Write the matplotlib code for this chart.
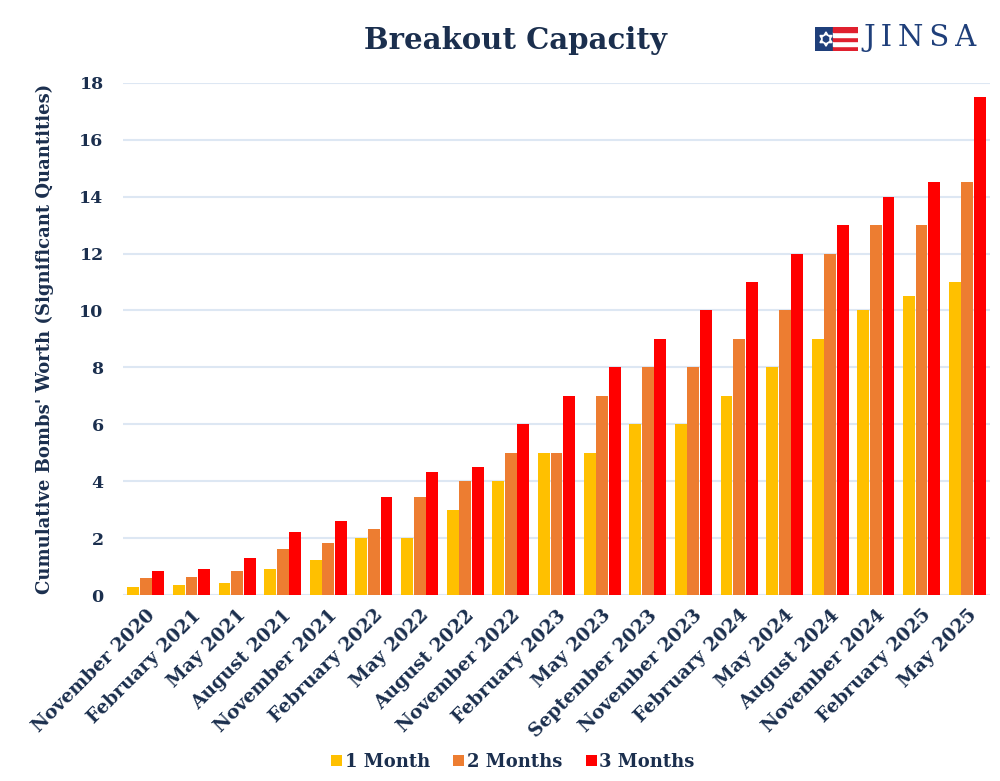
import matplotlib.pyplot as plt
import numpy as np
from matplotlib.patches import Rectangle, RegularPolygon

months = ["November 2020", "February 2021", "May 2021", "August 2021",
          "November 2021", "February 2022", "May 2022", "August 2022",
          "November 2022", "February 2023", "May 2023", "September 2023",
          "November 2023", "February 2024", "May 2024", "August 2024",
          "November 2024", "February 2025", "May 2025"]
one_month = [0.3, 0.35, 0.43, 0.92, 1.22, 2.0, 2.0, 3.0, 4.0, 5.0,
             5.0, 6.0, 6.0, 7.0, 8.0, 9.0, 10.0, 10.5, 11.0]
two_months = [0.59, 0.62, 0.83, 1.62, 1.82, 2.32, 3.43, 4.0, 5.0, 5.0,
              7.0, 8.0, 8.0, 9.0, 10.0, 12.0, 13.0, 13.0, 14.5]
three_months = [0.83, 0.91, 1.32, 2.23, 2.62, 3.43, 4.32, 4.5, 6.0, 7.0,
                8.0, 9.0, 10.0, 11.0, 12.0, 13.0, 14.0, 14.5, 17.5]

navy = "#1b2f4e"
plt.rcParams['font.family'] = ['DejaVu Serif']
plt.rcParams['font.weight'] = 'bold'
plt.rcParams['axes.labelweight'] = 'bold'

fig = plt.figure(figsize=(10, 7.81), dpi=100)
ax = fig.add_axes([0.123, 0.238, 0.867, 0.656])

x = np.arange(len(months))
w = 0.26
off = 0.275
ax.bar(x - off, one_month, w, color="#ffc000", label="1 Month", zorder=3)
ax.bar(x, two_months, w, color="#ed7d31", label="2 Months", zorder=3)
ax.bar(x + off, three_months, w, color="#ff0000", label="3 Months", zorder=3)

ax.set_xlim(-0.5, len(months) - 0.5)
ax.set_ylim(0, 18)
ax.set_yticks(range(0, 19, 2))
ax.yaxis.grid(True, color="#dde7f3", linewidth=1.5, zorder=0)
for s in ax.spines.values():
    s.set_visible(False)
ax.tick_params(length=0, colors=navy, labelsize=12.5)
ax.tick_params(axis='y', pad=14)
ax.tick_params(axis='x', pad=8)
ax.set_xticks(x)
ax.set_xticklabels(months, rotation=45, ha='right', rotation_mode='anchor',
                   fontsize=13.5, color=navy)
ax.set_ylabel("Cumulative Bombs' Worth (Significant Quantities)",
              fontsize=13, color=navy, labelpad=18)

fig.text(0.515, 0.948, "Breakout Capacity", ha='center', va='center',
         fontsize=21, color=navy, fontweight='bold')

leg = fig.legend(loc='lower center', bbox_to_anchor=(0.513, -0.008), ncol=3,
                 frameon=False, fontsize=13, handlelength=0.6, handleheight=0.6,
                 handletextpad=0.15, columnspacing=1.3)
for t in leg.get_texts():
    t.set_color(navy)

# JINSA logo
lax = fig.add_axes([0.815, 0.935, 0.043, 0.03])
lax.set_xlim(0, 43)
lax.set_ylim(0, 23)
lax.axis('off')
lax.add_patch(Rectangle((0, 0), 18, 23, color="#1f3f7a"))
for i in range(5):
    c = "#e0202e" if i % 2 == 0 else "white"
    lax.add_patch(Rectangle((18, i * 4.6), 25, 4.6, color=c))
lax.add_patch(RegularPolygon((11, 11.5), 3, radius=7, color="white"))
lax.add_patch(RegularPolygon((11, 11.5), 3, radius=7, orientation=np.pi, color="white"))
lax.add_patch(RegularPolygon((11, 11.5), 6, radius=3, color="#1f3f7a"))
fig.text(0.863, 0.951, "J\u2009I\u2009N\u2009S\u2009A", ha='left', va='center',
         fontsize=21, color="#1f3f7a", fontweight='normal')

fig.savefig("out.png", dpi=100, facecolor="white")
